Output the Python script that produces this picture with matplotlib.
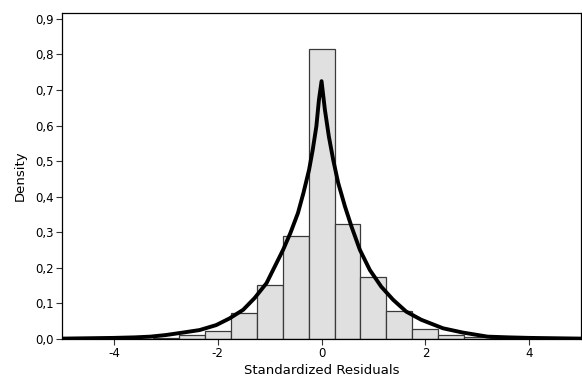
import matplotlib
matplotlib.use('Agg')
import matplotlib.pyplot as plt
from matplotlib.ticker import FuncFormatter

# histogram of standardized residuals (density), bin width 0.5 centred on 0
bin_left = [-3.75, -3.25, -2.75, -2.25, -1.75, -1.25, -0.75, -0.25,
            0.25, 0.75, 1.25, 1.75, 2.25, 2.75, 3.25]
bin_density = [0.001, 0.004, 0.010, 0.023, 0.072, 0.151, 0.289, 0.816,
               0.322, 0.173, 0.080, 0.029, 0.010, 0.005, 0.002]
bin_width = 0.5

# fitted density curve
curve_x = [-5.0, -4.5, -4.0, -3.6, -3.3, -3.0, -2.67, -2.35, -2.03, -1.77,
           -1.51, -1.29, -1.06, -0.90, -0.74, -0.60, -0.455, -0.35, -0.24,
           -0.17, -0.10, -0.05, 0.0, 0.064, 0.14, 0.224, 0.32, 0.45, 0.577,
           0.737, 0.93, 1.15, 1.38, 1.63, 1.92, 2.34, 2.72, 3.2, 3.6, 4.0,
           4.5, 5.0]
curve_y = [0.001, 0.002, 0.003, 0.0045, 0.0065, 0.011, 0.018, 0.025, 0.039,
           0.058, 0.082, 0.115, 0.157, 0.204, 0.251, 0.298, 0.354, 0.41,
           0.476, 0.532, 0.598, 0.673, 0.725, 0.645, 0.57, 0.504, 0.439,
           0.373, 0.316, 0.251, 0.194, 0.147, 0.110, 0.077, 0.054, 0.030,
           0.018, 0.0065, 0.0045, 0.003, 0.002, 0.001]

x_ticks = [-4, -2, 0, 2, 4]
y_ticks = [0.0, 0.1, 0.2, 0.3, 0.4, 0.5, 0.6, 0.7, 0.8, 0.9]

plt.rcParams['font.family'] = ['DejaVu Sans']
fig = plt.figure(figsize=(5.82, 3.80), dpi=100)
ax = fig.add_axes([0.1065, 0.108, 0.892, 0.859])

ax.bar(bin_left, bin_density, width=bin_width, align='edge',
       color='#e0e0e0', edgecolor='#3a3a3a', linewidth=0.9, zorder=2)
ax.plot(curve_x, curve_y, color='black', linewidth=2.8,
        solid_joinstyle='round', solid_capstyle='round', zorder=3)

ax.set_xlim(-5, 5)
ax.set_ylim(0, 0.918)
ax.set_xticks(x_ticks)
ax.set_yticks(y_ticks)
ax.xaxis.set_major_formatter(FuncFormatter(lambda v, p: '%d' % v))
ax.yaxis.set_major_formatter(FuncFormatter(lambda v, p: ('%.1f' % v).replace('.', ',')))
ax.tick_params(axis='both', direction='out', length=4, width=0.8,
               labelsize=8.5, color='#333333', pad=2)

for s in ax.spines.values():
    s.set_linewidth(0.9)
    s.set_color('black')

ax.set_xlabel('Standardized Residuals', fontsize=9.5, labelpad=3)
ax.set_ylabel('Density', fontsize=9.5, labelpad=6)

fig.savefig('out.png', dpi=100)
